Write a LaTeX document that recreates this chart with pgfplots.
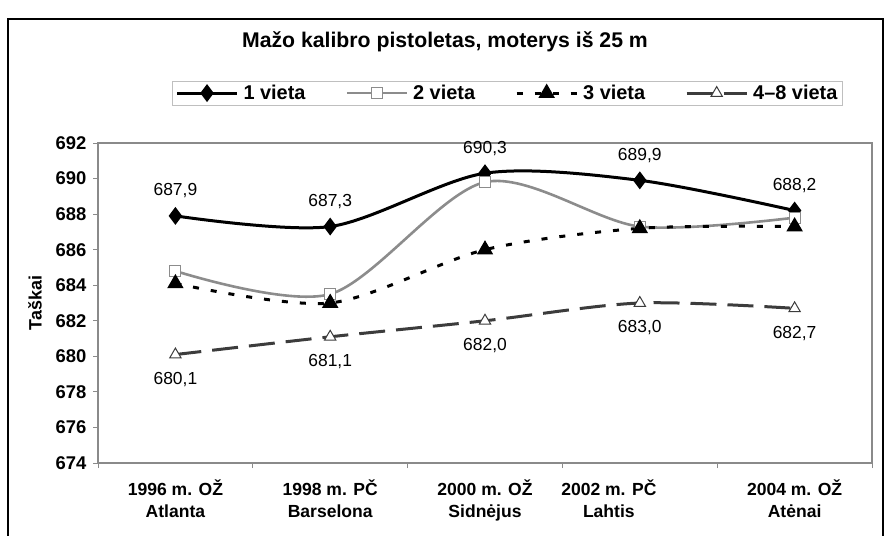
\documentclass[border=0pt]{standalone}
\usepackage{pgfplots}
\pgfplotsset{compat=1.18}
\usepackage{fontspec}
\setmainfont{Liberation Sans}
\definecolor{secondgray}{HTML}{8C8C8C}
\definecolor{lowgray}{HTML}{3C3C3C}
\definecolor{framegray}{HTML}{8A8A8A}
\pgfkeys{/pgf/number format/assume math mode=true}

\begin{document}
\begin{tikzpicture}[x=1bp,y=1bp]
\useasboundingbox (0,0) rectangle (888,-536);
\draw[line width=1.6bp] (8,-19) rectangle (883,-560);
\node[font=\bfseries\fontsize{21.3}{25}\selectfont] at (445,-42) {Mažo kalibro pistoletas, moterys iš 25 m};
\begin{axis}[
    at={(98bp,-463bp)}, anchor=south west,
    scale only axis, width=774bp, height=320bp,
    xmin=0.5, xmax=5.5, ymin=674, ymax=692,
    ytick={674,676,...,692},
    xtick={0.5,1.5,...,5.5}, xticklabels={},
    extra x ticks={1,2,3,3.8,5},
    extra x tick labels={{1996 m. OŽ\\Atlanta},{1998 m. PČ\\Barselona},{2000 m. OŽ\\Sidnėjus},{2002 m. PČ\\Lahtis},{2004 m. OŽ\\Atėnai}},
    extra x tick style={major tick length=0pt},
    xticklabel style={align=center, yshift=-13bp, font=\bfseries\fontsize{17.6}{22.5}\selectfont},
    yticklabel style={xshift=-3bp, font=\bfseries\fontsize{18.5}{20}\selectfont},
    ylabel={Taškai},
    ylabel style={at={(axis description cs:-0.0814,0.5)}, anchor=center, font=\bfseries\fontsize{18}{20}\selectfont},
    axis line style={framegray, line width=1.2bp},
    tick style={framegray, line width=1bp},
    major tick length=5bp, tick align=outside, tick pos=left,
    clip=false,
    legend style={at={(0.529,1.156)}, anchor=center, draw=gray!50, line width=0.8bp,
        font=\bfseries\fontsize{20}{22}\selectfont, legend columns=4,
        /tikz/every odd column/.append style={column sep=3bp},
        /tikz/every even column/.append style={column sep=38bp}},
    legend image code/.code={
        \draw[mark repeat=2, mark phase=2, #1] plot coordinates {(0bp,0bp) (30bp,0bp) (60bp,0bp)};
    },
    nodes near coords={\pgfmathprintnumber[fixed, fixed zerofill, precision=1, use comma]{\pgfplotspointmeta}},
    every node near coord/.append style={anchor=center, black, font=\fontsize{17.5}{20}\selectfont},
]
\addplot[black, line width=3bp, smooth, mark=diamond*, mark size=6.5bp, mark options={solid, fill=black},
    every node near coord/.append style={yshift=25bp}]
    coordinates {(1,687.9) (2,687.3) (3,690.3) (4,689.9) (5,688.2)};
\addlegendentry{1 vieta}
\addplot[secondgray, line width=2.6bp, smooth, mark=square*, mark size=5.5bp, mark options={solid, fill=white, line width=1bp},
    nodes near coords=]
    coordinates {(1,684.8) (2,683.5) (3,689.8) (4,687.3) (5,687.8)};
\addlegendentry{2 vieta}
\addplot[black, line width=3bp, smooth, dash pattern=on 6bp off 12bp, mark=triangle*, mark size=6.5bp, mark options={solid, fill=black},
    nodes near coords=]
    coordinates {(1,684.1) (2,683.0) (3,686.0) (4,687.2) (5,687.3)};
\addlegendentry{3 vieta}
\addplot[lowgray, line width=3bp, smooth, dash pattern=on 26bp off 11bp, mark=triangle*, mark size=6.5bp, mark options={solid, fill=white, line width=1bp},
    every node near coord/.append style={yshift=-25bp}]
    coordinates {(1,680.1) (2,681.1) (3,682.0) (4,683.0) (5,682.7)};
\addlegendentry{4–8 vieta}
\end{axis}
\end{tikzpicture}
\end{document}
